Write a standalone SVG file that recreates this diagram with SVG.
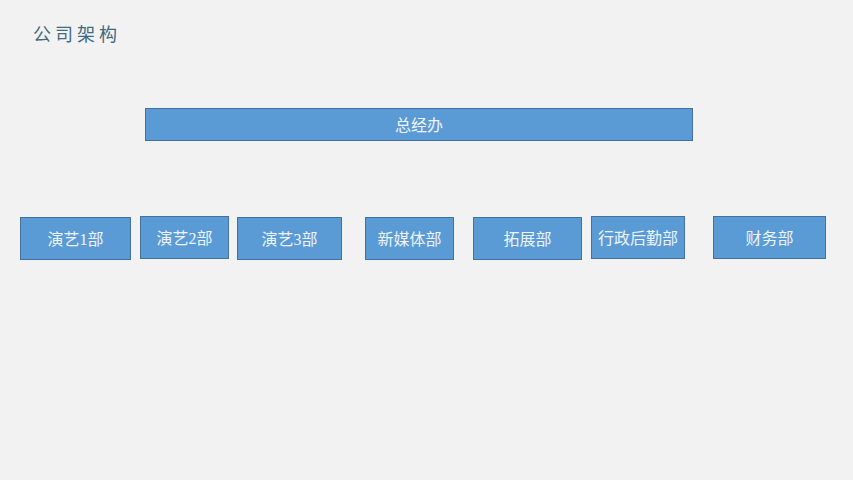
<svg xmlns="http://www.w3.org/2000/svg" width="853" height="480" viewBox="0 0 853 480">
<style>
.box{fill:#5b9bd5;stroke:#41719c;stroke-width:1}
.lbl{font-family:"Liberation Serif","Noto Sans CJK SC",serif;font-size:16px;fill:#eef4fb;text-anchor:middle;dominant-baseline:central}
.title{font-family:"Noto Sans CJK SC",sans-serif;font-size:18px;fill:#3f6a80;letter-spacing:4px}
</style>
<rect width="853" height="480" fill="#f2f2f2"/>
<text class="title" x="33" y="41">公司架构</text>
<g id="connectors"></g>
<g id="n0"><rect class="box" x="145.5" y="108.5" width="547" height="32"/><text class="lbl" x="419" y="125">总经办</text></g>
<g id="n1"><rect class="box" x="20.5" y="217.5" width="110" height="42"/><text class="lbl" x="75.5" y="239">演艺1部</text></g>
<g id="n2"><rect class="box" x="140.5" y="216.5" width="88" height="42"/><text class="lbl" x="184.5" y="238">演艺2部</text></g>
<g id="n3"><rect class="box" x="237.5" y="217.5" width="104" height="42"/><text class="lbl" x="289.5" y="239">演艺3部</text></g>
<g id="n4"><rect class="box" x="365.5" y="217.5" width="88" height="42"/><text class="lbl" x="409.5" y="239">新媒体部</text></g>
<g id="n5"><rect class="box" x="473.5" y="217.5" width="108" height="42"/><text class="lbl" x="527.5" y="239">拓展部</text></g>
<g id="n6"><rect class="box" x="591.5" y="216.5" width="93" height="42"/><text class="lbl" x="638" y="238">行政后勤部</text></g>
<g id="n7"><rect class="box" x="713.5" y="216.5" width="112" height="42"/><text class="lbl" x="769.5" y="238">财务部</text></g>
</svg>
